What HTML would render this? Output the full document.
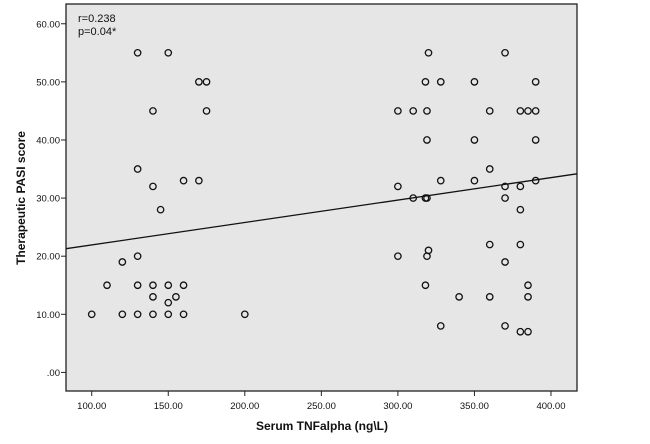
<!DOCTYPE html>
<html><head><meta charset="utf-8"><style>
body{margin:0;background:#fff;}
svg{display:block;font-family:"Liberation Sans",Arial,sans-serif;}
</style></head><body>
<svg id="chart" width="650" height="444" viewBox="0 0 650 444">
<rect x="0" y="0" width="650" height="444" fill="#fff"/>
<rect x="66" y="4" width="511" height="387" fill="#e6e6e6" stroke="#222" stroke-width="1.3"/>
<g id="axes"></g>
<g id="marks"></g>
<text x="78" y="22" font-size="11" fill="#111">r=0.238</text>
<text x="78" y="35" font-size="11" fill="#111">p=0.04*</text>
<text x="322" y="430" font-size="12" font-weight="bold" text-anchor="middle" fill="#111">Serum TNFalpha (ng\L)</text>
<text transform="translate(25,198) rotate(-90)" font-size="12" font-weight="bold" text-anchor="middle" fill="#111">Therapeutic PASI score</text>
</svg>
<script>
const xTicks=[100,150,200,250,300,350,400];
const xTickLabels=["100.00","150.00","200.00","250.00","300.00","350.00","400.00"];
const yTicks=[0,10,20,30,40,50,60];
const yTickLabels=[".00","10.00","20.00","30.00","40.00","50.00","60.00"];
const tnfValues=[130,150,170,175,140,175,130,140,160,170,145,130,120,110,130,140,150,160,140,155,150,100,120,130,140,150,160,200,
320,370,318,328,350,390,300,310,319,360,380,385,390,319,350,390,360,300,328,350,370,380,390,310,318,319,370,380,360,380,320,300,319,370,318,385,340,360,385,328,370,380,385];
const pasiValues=[55,55,50,50,45,45,35,32,33,33,28,20,19,15,15,15,15,15,13,13,12,10,10,10,10,10,10,10,
55,55,50,50,50,50,45,45,45,45,45,45,45,40,40,40,35,32,33,33,32,32,33,30,30,30,30,28,22,22,21,20,20,19,15,15,13,13,13,8,8,7,7];
const fitIntercept=18.08, fitSlope=0.0386;
const xDomain=[83.2,417], yDomain=[-3.2,63.4];
const L=66,R=577,T=4,B=391;
const sx=v=>L+(v-xDomain[0])/(xDomain[1]-xDomain[0])*(R-L);
const sy=v=>B-(v-yDomain[0])/(yDomain[1]-yDomain[0])*(B-T);
const NS="http://www.w3.org/2000/svg";
const axes=document.getElementById('axes'), marks=document.getElementById('marks');
function mk(tag,attrs,parent){const e=document.createElementNS(NS,tag);for(const k in attrs)e.setAttribute(k,attrs[k]);parent.appendChild(e);return e;}
xTicks.forEach((v,i)=>{
 const t=mk('line',{x1:sx(v),x2:sx(v),y1:B,y2:B+5,stroke:'#222'},axes);
 
 
 const l=mk('text',{x:sx(v),y:B+18,'font-size':'9.5','text-anchor':'middle',fill:'#111'},axes);
 l.textContent=xTickLabels[i];
 
 
});
yTicks.forEach((v,i)=>{
 const t=mk('line',{x1:L-5,x2:L,y1:sy(v),y2:sy(v),stroke:'#222'},axes);
 
 
 const l=mk('text',{x:L-6,y:sy(v)+3.5,'font-size':'9.5','text-anchor':'end',fill:'#111'},axes);
 l.textContent=yTickLabels[i];
 
 
});
const fit=mk('line',{x1:sx(xDomain[0]),y1:sy(fitIntercept+fitSlope*xDomain[0]),x2:sx(xDomain[1]),y2:sy(fitIntercept+fitSlope*xDomain[1]),stroke:'#111','stroke-width':1.3},marks);


tnfValues.forEach((x,i)=>{
 const c=mk('circle',{cx:sx(x),cy:sy(pasiValues[i]),r:3.2,fill:'none',stroke:'#111','stroke-width':1.3},marks);
 
 
});
</script>
</body></html>
